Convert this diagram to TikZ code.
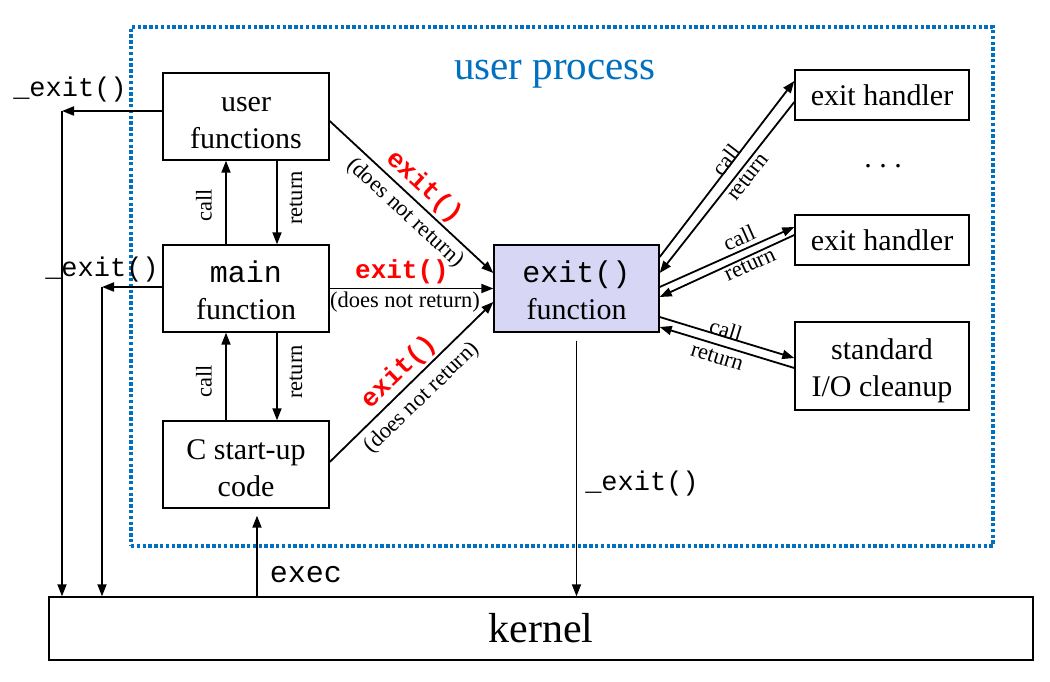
\documentclass[tikz,border=0pt]{standalone}
\usepackage{fontspec}
\setmainfont{Liberation Serif}
\setmonofont{Liberation Mono}
\usetikzlibrary{arrows.meta}
\definecolor{upblue}{RGB}{0,112,192}
\definecolor{efill}{RGB}{215,215,245}
\newcommand\fbig{\fontsize{30}{37}\selectfont}
\newcommand\fsml{\fontsize{22.5}{26}\selectfont}
\newcommand\fcode{\fontsize{27}{30}\selectfont\ttfamily}
\newcommand\fred{\fontsize{26}{30}\selectfont\ttfamily\bfseries\color{red}}
\newcommand\twol[3][22pt]{\rule{0pt}{#1}\smash{#2}\\\smash{#3}}
\begin{document}
\begin{tikzpicture}[x=1pt,y=-1pt,
  box/.style={draw,line width=1.4pt,minimum width=166pt,minimum height=87pt,inner sep=0pt,align=center,font=\fbig},
  hbox/.style={draw,line width=1.4pt,minimum width=174pt,minimum height=50pt,inner sep=0pt,align=center,font=\fbig},
  arr/.style={line width=1.8pt,-{Triangle[length=12pt,width=9pt]}},
  sm/.style={font=\fsml,inner sep=0pt},
  code/.style={font=\fcode,inner sep=0pt},
  redc/.style={font=\fred,inner sep=0pt}
]
\useasboundingbox (0,0) rectangle (1050,682);
\fill[white] (0,0) rectangle (1050,682);

% user process frame
\node[draw=upblue,line width=3.6pt,dash pattern=on 3.4pt off 2.4pt,minimum width=862pt,minimum height=519pt,inner sep=0pt] (proc) at (562,286.5) {};
\node[font=\fontsize{41}{45}\selectfont,text=upblue,inner sep=0pt] (ptitle) at (555,74) {user process};

% boxes
\node[box] (uf) at (246,116.5) {\twol[27pt]{user}{functions}};
\node[box] (mf) at (246,288.5) {\twol[25pt]{\texttt{main}}{function}};
\node[box] (cs) at (246,464.5) {\twol[26pt]{C start-up}{code}};
\node[box,fill=efill,minimum width=165pt] (ef) at (576.5,288.5) {\twol[24pt]{\texttt{exit()}}{function}};
\node[hbox] (eh1) at (882,95) {exit handler};
\node[hbox] (eh2) at (882,240) {exit handler};
\node[hbox,minimum height=88pt] (io) at (882,366) {\twol[24pt]{standard}{I/O cleanup}};
\node[font=\fbig,inner sep=0pt] (dots) at (883,166) {.\ .\ .};
\node[draw,line width=1.4pt,minimum width=984pt,minimum height=63pt,inner sep=0pt,font=\fontsize{42}{46}\selectfont] (kernel) at (541,628.5) {kernel};

% call/return between left boxes
\draw[arr] ([xshift=-20pt]mf.north) -- ([xshift=-20pt]uf.south);
\draw[arr] ([xshift=31pt]uf.south) -- ([xshift=31pt]mf.north);
\node[sm,rotate=90] (c1l) at (204,205) {call};
\node[sm,rotate=90] (r1l) at (296,198) {return};
\draw[arr] ([xshift=-20pt]cs.north) -- ([xshift=-20pt]mf.south);
\draw[arr] ([xshift=31pt]mf.south) -- ([xshift=31pt]cs.north);
\node[sm,rotate=90] (c2l) at (204,381) {call};
\node[sm,rotate=90] (r2l) at (296,372) {return};

% _exit() paths on left
\coordinate (k1) at (62,111);
\coordinate (k2) at (102,287);
\draw[arr] (uf.west |- k1) -- (k1);
\draw[arr] (k1) -- (k1 |- kernel.north);
\draw[arr] (mf.west |- k2) -- (k2);
\draw[arr] (k2) -- (k2 |- kernel.north);
\node[code] (x1) at (70,90) {\_exit()};
\node[code] (x2) at (102,270) {\_exit()};

% exit() arrows to exit function
\draw[arr] ([yshift=-4.5pt]uf.east) -- ([yshift=15.5pt]ef.west);
\node[redc,rotate=-42.6] (e1) at (424,187) {exit()};
\node[sm,rotate=-42.6] (n1) at (405,213) {(does not return)};
\draw[arr] (mf.east) -- (ef.west);
\node[redc] (e2) at (402,272) {exit()};
\node[sm] (n2) at (405,302) {(does not return)};
\draw[arr] ([yshift=2.5pt]cs.east) -- ([yshift=-13.5pt]ef.west);
\node[redc,rotate=44] (e3) at (399,372) {exit()};
\node[sm,rotate=44] (n3) at (422,398) {(does not return)};

% exit handler arrows
\draw[arr] ([yshift=31.5pt]ef.east) -- ([yshift=14pt]eh1.west);
\draw[arr] ([yshift=-7pt]eh1.west) -- ([yshift=15.5pt]ef.east);
\node[sm,rotate=52.5] (hc1) at (726,160) {call};
\node[sm,rotate=52] (hr1) at (748,177) {return};
\draw[arr] ([yshift=1.5pt]ef.east) -- ([yshift=13pt]eh2.west);
\draw[arr] ([yshift=5pt]eh2.west) -- ([yshift=-8.5pt]ef.east);
\node[sm,rotate=24] (hc2) at (739,238) {call};
\node[sm,rotate=24.7] (hr2) at (750,265) {return};
\draw[arr] ([yshift=-28.5pt]ef.east) -- ([yshift=8pt]io.west);
\draw[arr] ([yshift=-2pt]io.west) -- ([yshift=-38.5pt]ef.east);
\node[sm,rotate=-17] (hc3) at (726,330) {call};
\node[sm,rotate=-17] (hr3) at (717,357) {return};

% to kernel
\draw[arr] ([yshift=-8pt]ef.south) -- (ef.south |- kernel.north);
\node[code] (x3) at (642,484) {\_exit()};
\coordinate (ex) at ([xshift=11pt,yshift=-7pt]cs.south);
\draw[arr] (ex |- kernel.north) -- (ex);
\node[code,font=\fontsize{30}{33}\selectfont\ttfamily] (exl) at (306,575) {exec};
\end{tikzpicture}
\end{document}
